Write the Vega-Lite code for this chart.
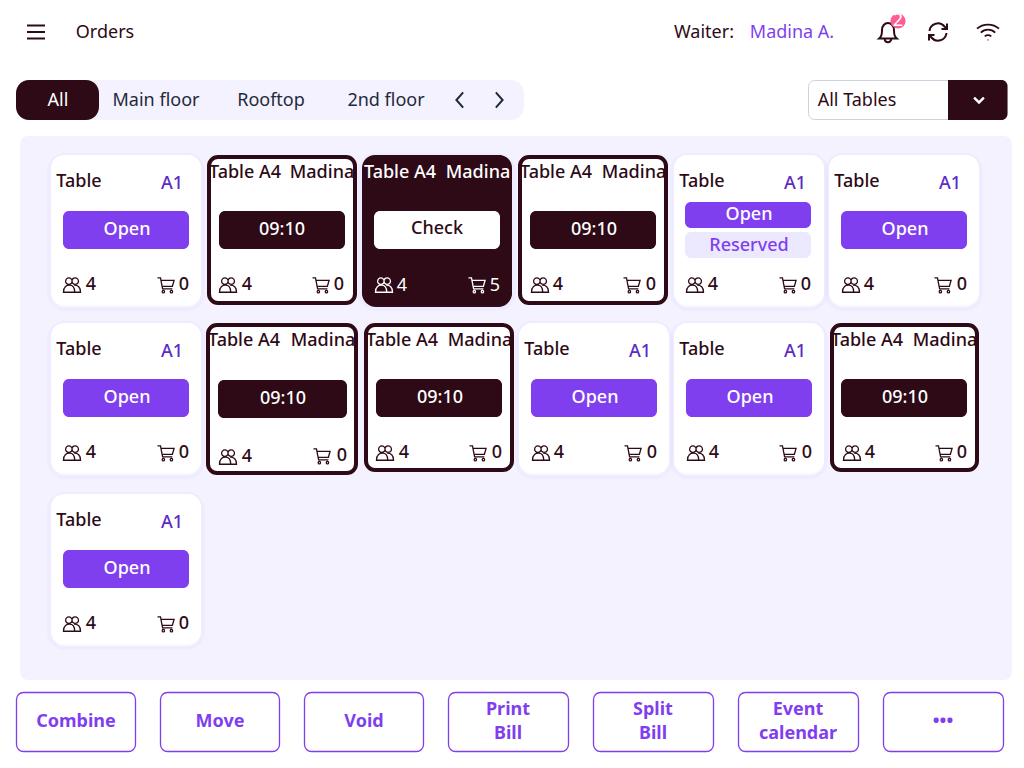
{
  "$schema": "https://vega.github.io/schema/vega-lite/v6.json",
  "width": 1024,
  "height": 768,
  "padding": 0,
  "autosize": {"type": "fit", "contains": "padding"},
  "background": "#ffffff",
  "view": {"stroke": null},
  "datasets": {
    "boxes": [
      {"role": "panel", "x": 20, "x2": 1012, "y": 136, "y2": 680},
      {"role": "track", "x": 16, "x2": 524, "y": 80, "y2": 120},
      {"role": "tabOn", "x": 16, "x2": 99, "y": 80, "y2": 120},
      {"role": "selectBox", "x": 808.5, "x2": 1007, "y": 80.5, "y2": 119.5},
      {"role": "selectDark", "x": 948, "x2": 1007.5, "y": 80, "y2": 120},
      {"role": "selectEdge", "x": 948, "x2": 960, "y": 80, "y2": 120},

      {"role": "card", "x": 51, "x2": 201, "y": 155, "y2": 305},
      {"role": "cardRing", "x": 209, "x2": 355, "y": 157, "y2": 303},
      {"role": "cardDark", "x": 362, "x2": 512, "y": 155, "y2": 305},
      {"role": "cardRing", "x": 520, "x2": 666, "y": 157, "y2": 303},
      {"role": "card", "x": 674, "x2": 824, "y": 155, "y2": 305},
      {"role": "card", "x": 829, "x2": 979, "y": 155, "y2": 305},
      {"role": "card", "x": 51, "x2": 201, "y": 323, "y2": 473},
      {"role": "cardRing", "x": 208, "x2": 356, "y": 325, "y2": 473},
      {"role": "cardRing", "x": 366, "x2": 512, "y": 325, "y2": 470},
      {"role": "card", "x": 519, "x2": 669, "y": 323, "y2": 473},
      {"role": "card", "x": 674, "x2": 824, "y": 323, "y2": 473},
      {"role": "cardRing", "x": 832, "x2": 977, "y": 325, "y2": 470},
      {"role": "card", "x": 51, "x2": 201, "y": 494, "y2": 644},

      {"role": "open", "x": 63, "x2": 189, "y": 211, "y2": 249},
      {"role": "timer", "x": 219, "x2": 345, "y": 211, "y2": 249},
      {"role": "check", "x": 374, "x2": 500, "y": 211, "y2": 249},
      {"role": "timer", "x": 530, "x2": 656, "y": 211, "y2": 249},
      {"role": "open", "x": 685, "x2": 811, "y": 202, "y2": 228},
      {"role": "reserved", "x": 685, "x2": 811, "y": 232, "y2": 258},
      {"role": "open", "x": 841, "x2": 967, "y": 211, "y2": 249},
      {"role": "open", "x": 63, "x2": 189, "y": 379, "y2": 417},
      {"role": "timer", "x": 218, "x2": 347, "y": 380, "y2": 418},
      {"role": "timer", "x": 376, "x2": 502, "y": 379, "y2": 417},
      {"role": "open", "x": 531, "x2": 657, "y": 379, "y2": 417},
      {"role": "open", "x": 686, "x2": 812, "y": 379, "y2": 417},
      {"role": "timer", "x": 841, "x2": 967, "y": 379, "y2": 417},
      {"role": "open", "x": 63, "x2": 189, "y": 550, "y2": 588},

      {"role": "action", "x": 16.5, "x2": 135.5, "y": 692.5, "y2": 751.5},
      {"role": "action", "x": 160.5, "x2": 279.5, "y": 692.5, "y2": 751.5},
      {"role": "action", "x": 304.5, "x2": 423.5, "y": 692.5, "y2": 751.5},
      {"role": "action", "x": 448.5, "x2": 568.5, "y": 692.5, "y2": 751.5},
      {"role": "action", "x": 593.5, "x2": 713.5, "y": 692.5, "y2": 751.5},
      {"role": "action", "x": 738.5, "x2": 858.5, "y": 692.5, "y2": 751.5},
      {"role": "action", "x": 883.5, "x2": 1003.5, "y": 692.5, "y2": 751.5}
    ],
    "gridlines": [
      {"x": 43, "x2": 43, "y": 145, "y2": 670},
      {"x": 148, "x2": 148, "y": 145, "y2": 670},
      {"x": 253, "x2": 253, "y": 145, "y2": 670},
      {"x": 358, "x2": 358, "y": 145, "y2": 670},
      {"x": 463, "x2": 463, "y": 145, "y2": 670},
      {"x": 568, "x2": 568, "y": 145, "y2": 670},
      {"x": 673, "x2": 673, "y": 145, "y2": 670},
      {"x": 778, "x2": 778, "y": 145, "y2": 670},
      {"x": 883, "x2": 883, "y": 145, "y2": 670},
      {"x": 988, "x2": 988, "y": 145, "y2": 670},
      {"x": 43, "x2": 988, "y": 145.5, "y2": 145.5},
      {"x": 43, "x2": 988, "y": 250.5, "y2": 250.5},
      {"x": 43, "x2": 988, "y": 355.5, "y2": 355.5},
      {"x": 43, "x2": 988, "y": 460.5, "y2": 460.5},
      {"x": 43, "x2": 988, "y": 565.5, "y2": 565.5},
      {"x": 43, "x2": 988, "y": 670.5, "y2": 670.5}
    ],
    "icons": [
      {"icon": "menu", "on": "plain", "x": 36, "y": 32},
      {"icon": "bell", "on": "plain", "x": 888, "y": 33},
      {"icon": "refresh", "on": "plain", "x": 938, "y": 32},
      {"icon": "wifi", "on": "plain", "x": 988, "y": 32},
      {"icon": "back", "on": "tabs", "x": 460, "y": 100},
      {"icon": "next", "on": "tabs", "x": 499, "y": 100},
      {"icon": "down", "on": "dark", "x": 979, "y": 100},
      {"icon": "guests", "on": "plain", "x": 72, "y": 285},
      {"icon": "cart", "on": "plain", "x": 166, "y": 285},
      {"icon": "guests", "on": "plain", "x": 228, "y": 285},
      {"icon": "cart", "on": "plain", "x": 321, "y": 285},
      {"icon": "guests", "on": "dark", "x": 384, "y": 285},
      {"icon": "cart", "on": "dark", "x": 477, "y": 285},
      {"icon": "guests", "on": "plain", "x": 540, "y": 285},
      {"icon": "cart", "on": "plain", "x": 632, "y": 285},
      {"icon": "guests", "on": "plain", "x": 695, "y": 285},
      {"icon": "cart", "on": "plain", "x": 788, "y": 285},
      {"icon": "guests", "on": "plain", "x": 851, "y": 285},
      {"icon": "cart", "on": "plain", "x": 943, "y": 285},
      {"icon": "guests", "on": "plain", "x": 72, "y": 453},
      {"icon": "cart", "on": "plain", "x": 166, "y": 453},
      {"icon": "guests", "on": "plain", "x": 228, "y": 457},
      {"icon": "cart", "on": "plain", "x": 322, "y": 456},
      {"icon": "guests", "on": "plain", "x": 385, "y": 453},
      {"icon": "cart", "on": "plain", "x": 478, "y": 453},
      {"icon": "guests", "on": "plain", "x": 541, "y": 453},
      {"icon": "cart", "on": "plain", "x": 633, "y": 453},
      {"icon": "guests", "on": "plain", "x": 696, "y": 453},
      {"icon": "cart", "on": "plain", "x": 788, "y": 453},
      {"icon": "guests", "on": "plain", "x": 852, "y": 453},
      {"icon": "cart", "on": "plain", "x": 944, "y": 453},
      {"icon": "guests", "on": "plain", "x": 72, "y": 624},
      {"icon": "cart", "on": "plain", "x": 166, "y": 624}
    ],
    "labels": [
      {"role": "title", "label": "Orders", "x": 105, "y": 33},
      {"role": "title", "label": "Waiter:", "x": 704, "y": 33},
      {"role": "waiter", "label": "Madina A.", "x": 792, "y": 33},
      {"role": "badge", "label": "2", "x": 898, "y": 21},
      {"role": "tabOn", "label": "All", "x": 58, "y": 101},
      {"role": "tab", "label": "Main floor", "x": 156, "y": 101},
      {"role": "tab", "label": "Rooftop", "x": 271, "y": 101},
      {"role": "tab", "label": "2nd floor", "x": 386, "y": 101},
      {"role": "title", "label": "All Tables", "x": 857, "y": 101},

      {"role": "table", "label": "Table", "x": 79, "y": 182},
      {"role": "code", "label": "A1", "x": 172, "y": 184},
      {"role": "openLarge", "label": "Open", "x": 127, "y": 230},
      {"role": "count", "label": "4", "x": 91, "y": 285},
      {"role": "count", "label": "0", "x": 184, "y": 285},

      {"role": "table", "label": "Table A4", "x": 245, "y": 173},
      {"role": "table", "label": "Madina", "x": 322, "y": 173},
      {"role": "timer", "label": "09:10", "x": 282, "y": 230},
      {"role": "count", "label": "4", "x": 247, "y": 285},
      {"role": "count", "label": "0", "x": 339, "y": 285},

      {"role": "tableDark", "label": "Table A4", "x": 400, "y": 173},
      {"role": "tableDark", "label": "Madina", "x": 478, "y": 173},
      {"role": "check", "label": "Check", "x": 437, "y": 229},
      {"role": "countDark", "label": "4", "x": 402, "y": 286},
      {"role": "countDark", "label": "5", "x": 495, "y": 286},

      {"role": "table", "label": "Table A4", "x": 556, "y": 173},
      {"role": "table", "label": "Madina", "x": 634, "y": 173},
      {"role": "timer", "label": "09:10", "x": 594, "y": 230},
      {"role": "count", "label": "4", "x": 558, "y": 285},
      {"role": "count", "label": "0", "x": 651, "y": 285},

      {"role": "table", "label": "Table", "x": 702, "y": 182},
      {"role": "code", "label": "A1", "x": 795, "y": 184},
      {"role": "openSmall", "label": "Open", "x": 749, "y": 215},
      {"role": "reserved", "label": "Reserved", "x": 749, "y": 246},
      {"role": "count", "label": "4", "x": 713, "y": 285},
      {"role": "count", "label": "0", "x": 806, "y": 285},

      {"role": "table", "label": "Table", "x": 857, "y": 182},
      {"role": "code", "label": "A1", "x": 950, "y": 184},
      {"role": "openLarge", "label": "Open", "x": 905, "y": 230},
      {"role": "count", "label": "4", "x": 869, "y": 285},
      {"role": "count", "label": "0", "x": 962, "y": 285},

      {"role": "table", "label": "Table", "x": 79, "y": 350},
      {"role": "code", "label": "A1", "x": 172, "y": 352},
      {"role": "openLarge", "label": "Open", "x": 127, "y": 398},
      {"role": "count", "label": "4", "x": 91, "y": 453},
      {"role": "count", "label": "0", "x": 184, "y": 453},

      {"role": "table", "label": "Table A4", "x": 244, "y": 341},
      {"role": "table", "label": "Madina", "x": 323, "y": 341},
      {"role": "timer", "label": "09:10", "x": 283, "y": 399},
      {"role": "count", "label": "4", "x": 247, "y": 457},
      {"role": "count", "label": "0", "x": 342, "y": 456},

      {"role": "table", "label": "Table A4", "x": 402, "y": 341},
      {"role": "table", "label": "Madina", "x": 480, "y": 341},
      {"role": "timer", "label": "09:10", "x": 440, "y": 398},
      {"role": "count", "label": "4", "x": 404, "y": 453},
      {"role": "count", "label": "0", "x": 497, "y": 453},

      {"role": "table", "label": "Table", "x": 547, "y": 350},
      {"role": "code", "label": "A1", "x": 640, "y": 352},
      {"role": "openLarge", "label": "Open", "x": 595, "y": 398},
      {"role": "count", "label": "4", "x": 559, "y": 453},
      {"role": "count", "label": "0", "x": 652, "y": 453},

      {"role": "table", "label": "Table", "x": 702, "y": 350},
      {"role": "code", "label": "A1", "x": 795, "y": 352},
      {"role": "openLarge", "label": "Open", "x": 750, "y": 398},
      {"role": "count", "label": "4", "x": 714, "y": 453},
      {"role": "count", "label": "0", "x": 807, "y": 453},

      {"role": "table", "label": "Table A4", "x": 867, "y": 341},
      {"role": "table", "label": "Madina", "x": 945, "y": 341},
      {"role": "timer", "label": "09:10", "x": 905, "y": 398},
      {"role": "count", "label": "4", "x": 870, "y": 453},
      {"role": "count", "label": "0", "x": 962, "y": 453},

      {"role": "table", "label": "Table", "x": 79, "y": 521},
      {"role": "code", "label": "A1", "x": 172, "y": 523},
      {"role": "openLarge", "label": "Open", "x": 127, "y": 569},
      {"role": "count", "label": "4", "x": 91, "y": 624},
      {"role": "count", "label": "0", "x": 184, "y": 624},

      {"role": "action", "label": "Combine", "x": 76, "y": 722},
      {"role": "action", "label": "Move", "x": 220, "y": 722},
      {"role": "action", "label": "Void", "x": 364, "y": 722},
      {"role": "action", "label": "Print", "x": 508, "y": 710},
      {"role": "action", "label": "Bill", "x": 508, "y": 734},
      {"role": "action", "label": "Split", "x": 653, "y": 710},
      {"role": "action", "label": "Bill", "x": 653, "y": 734},
      {"role": "action", "label": "Event", "x": 798, "y": 710},
      {"role": "action", "label": "calendar", "x": 798, "y": 734},
      {"role": "action", "label": "•••", "x": 943, "y": 722}
    ]
  },
  "encoding": {
    "x": {"field": "x", "type": "quantitative", "axis": null, "scale": {"domain": [0, 1024], "nice": false, "zero": false}},
    "y": {"field": "y", "type": "quantitative", "axis": null, "scale": {"domain": [0, 768], "nice": false, "zero": false, "reverse": true}}
  },
  "layer": [
    {
      "data": {"name": "boxes"},
      "encoding": {
        "x2": {"field": "x2"},
        "y2": {"field": "y2"},
        "fill": {
          "field": "role",
          "type": "nominal",
          "legend": null,
          "scale": {
            "domain": ["panel", "track", "tabOn", "selectBox", "selectDark", "selectEdge", "card", "cardRing", "cardDark", "open", "timer", "check", "reserved", "action"],
            "range": ["#f4f2ff", "#f4f2ff", "#2d0a16", "#ffffff", "#2d0a16", "#2d0a16", "#ffffff", "#ffffff", "#2d0a16", "#7f3fef", "#2d0a16", "#ffffff", "#ece8fd", "#ffffff"]
          }
        }
      },
      "layer": [
        {
          "transform": [{"filter": {"field": "role", "equal": "panel"}}],
          "mark": {"type": "rect", "cornerRadius": 8}
        },
        {
          "transform": [{"filter": {"field": "role", "oneOf": ["card", "cardDark"]}}],
          "mark": {"type": "rect", "cornerRadius": 14, "stroke": "#7b61ff", "strokeOpacity": 0.04, "strokeWidth": 8, "yOffset": 2, "y2Offset": 2}
        },
        {
          "transform": [{"filter": {"field": "role", "oneOf": ["card", "cardDark"]}}],
          "mark": {"type": "rect", "cornerRadius": 13}
        },
        {
          "transform": [{"filter": {"field": "role", "equal": "cardRing"}}],
          "mark": {"type": "rect", "cornerRadius": 9, "stroke": "#2d0a16", "strokeWidth": 4}
        },
        {
          "transform": [{"filter": {"field": "role", "oneOf": ["open", "timer", "check", "reserved"]}}],
          "mark": {"type": "rect", "cornerRadius": 6}
        },
        {
          "transform": [{"filter": {"field": "role", "oneOf": ["track", "tabOn"]}}],
          "mark": {"type": "rect", "cornerRadius": 13}
        },
        {
          "transform": [{"filter": {"field": "role", "equal": "selectBox"}}],
          "mark": {"type": "rect", "cornerRadius": 6, "stroke": "#cbd2e0", "strokeWidth": 1}
        },
        {
          "transform": [{"filter": {"field": "role", "equal": "selectDark"}}],
          "mark": {"type": "rect", "cornerRadius": 6}
        },
        {
          "transform": [{"filter": {"field": "role", "equal": "selectEdge"}}],
          "mark": {"type": "rect"}
        },
        {
          "transform": [{"filter": {"field": "role", "equal": "action"}}],
          "mark": {"type": "rect", "cornerRadius": 7, "stroke": "#7f3fef", "strokeWidth": 1.3}
        }
      ]
    },
    {
      "data": {"name": "icons"},
      "encoding": {
        "stroke": {
          "field": "on",
          "type": "nominal",
          "legend": null,
          "scale": {"domain": ["plain", "tabs", "dark"], "range": ["#2d0a16", "#1f2a3c", "#ffffff"]}
        }
      },
      "layer": [
        {
          "transform": [{"filter": {"field": "icon", "equal": "menu"}}],
          "mark": {"type": "point", "filled": false, "opacity": 1, "strokeWidth": 2, "size": 324, "shape": "M-1,-0.72 H1 M-1,0 H1 M-1,0.72 H1"}
        },
        {
          "transform": [{"filter": {"field": "icon", "equal": "bell"}}],
          "mark": {"type": "point", "filled": false, "opacity": 1, "strokeWidth": 2, "size": 484, "shape": "M-0.8,0.5 C-0.5,0.25 -0.55,-0.1 -0.55,-0.25 C-0.55,-0.65 -0.3,-0.9 0,-0.9 C0.3,-0.9 0.55,-0.65 0.55,-0.25 C0.55,-0.1 0.5,0.25 0.8,0.5 Z M-0.3,0.5 C-0.3,0.95 0.3,0.95 0.3,0.5"}
        },
        {
          "transform": [{"filter": {"field": "icon", "equal": "refresh"}}],
          "mark": {"type": "point", "filled": false, "opacity": 1, "strokeWidth": 2, "size": 400, "shape": "M-0.85,-0.1 A0.85,0.85 0 0 1 0.65,-0.55 L0.9,-0.3 M0.9,-0.85 V-0.3 H0.35 M0.85,0.1 A0.85,0.85 0 0 1 -0.65,0.55 L-0.9,0.3 M-0.9,0.85 V0.3 H-0.35"}
        },
        {
          "transform": [{"filter": {"field": "icon", "equal": "wifi"}}],
          "mark": {"type": "point", "filled": false, "opacity": 1, "strokeWidth": 1.8, "size": 484, "shape": "M-1,-0.3 C-0.45,-0.8 0.45,-0.8 1,-0.3 M-0.65,0.05 C-0.3,-0.3 0.3,-0.3 0.65,0.05 M-0.3,0.4 C-0.1,0.25 0.1,0.25 0.3,0.4 M-0.03,0.72 H0.03"}
        },
        {
          "transform": [{"filter": {"field": "icon", "equal": "back"}}],
          "mark": {"type": "point", "filled": false, "opacity": 1, "strokeWidth": 2, "size": 324, "shape": "M0.35,-0.85 L-0.4,0 L0.35,0.85"}
        },
        {
          "transform": [{"filter": {"field": "icon", "equal": "next"}}],
          "mark": {"type": "point", "filled": false, "opacity": 1, "strokeWidth": 2, "size": 324, "shape": "M-0.35,-0.85 L0.4,0 L-0.35,0.85"}
        },
        {
          "transform": [{"filter": {"field": "icon", "equal": "down"}}],
          "mark": {"type": "point", "filled": false, "opacity": 1, "strokeWidth": 2.4, "size": 196, "shape": "M-0.7,-0.35 L0,0.35 L0.7,-0.35"}
        },
        {
          "transform": [{"filter": {"field": "icon", "equal": "guests"}}],
          "mark": {"type": "point", "filled": false, "opacity": 1, "strokeWidth": 1.3, "size": 289, "shape": "M-0.75,-0.45 a0.38,0.38 0 1,0 0.76,0 a0.38,0.38 0 1,0 -0.76,0 Z M0,-0.45 a0.38,0.38 0 1,0 0.76,0 a0.38,0.38 0 1,0 -0.76,0 Z M-1,0.85 C-1,0.15 -0.6,0.02 -0.3,0.02 C0.1,0.02 0.32,0.25 0.32,0.85 Z M0.32,0.85 H1 C1,0.25 0.7,0.02 0.25,0.02"}
        },
        {
          "transform": [{"filter": {"field": "icon", "equal": "cart"}}],
          "mark": {"type": "point", "filled": false, "opacity": 1, "strokeWidth": 1.3, "size": 289, "shape": "M-1,-0.85 H-0.65 L-0.4,0.45 H0.75 M-0.58,-0.55 H0.95 L0.75,0.15 H-0.45 M-0.45,0.78 a0.14,0.14 0 1,0 0.28,0 a0.14,0.14 0 1,0 -0.28,0 Z M0.5,0.78 a0.14,0.14 0 1,0 0.28,0 a0.14,0.14 0 1,0 -0.28,0 Z"}
        }
      ]
    },
    {
      "data": {"values": [{"x": 898, "y": 21}]},
      "mark": {"type": "circle", "size": 230, "opacity": 1, "color": "#ff5c93"}
    },
    {
      "data": {"name": "labels"},
      "encoding": {
        "text": {"field": "label"},
        "color": {
          "field": "role",
          "type": "nominal",
          "legend": null,
          "scale": {
            "domain": ["title", "waiter", "badge", "tabOn", "tab", "table", "tableDark", "code", "openLarge", "openSmall", "reserved", "timer", "check", "count", "countDark", "action"],
            "range": ["#2d0a16", "#7f3fef", "#ffffff", "#ffffff", "#1f2a3c", "#2d0a16", "#ffffff", "#5b2bc4", "#ffffff", "#ffffff", "#7f3fef", "#ffffff", "#2d0a16", "#2d0a16", "#ffffff", "#7f3fef"]
          }
        },
        "size": {
          "field": "role",
          "type": "ordinal",
          "legend": null,
          "scale": {
            "domain": ["title", "waiter", "badge", "tabOn", "tab", "table", "tableDark", "code", "openLarge", "openSmall", "reserved", "timer", "check", "count", "countDark", "action"],
            "range": [18, 18, 11, 18, 18, 13, 13, 28, 18, 13, 15, 18, 18, 17, 15, 18]
          }
        }
      },
      "layer": [
        {
          "transform": [{"filter": {"field": "role", "oneOf": ["title", "waiter", "badge", "tabOn", "tab", "countDark"]}}],
          "mark": {"type": "text", "font": "Noto Sans", "fontWeight": 400, "align": "center", "baseline": "middle"}
        },
        {
          "transform": [{"filter": {"field": "role", "oneOf": ["table", "tableDark", "code", "openLarge", "openSmall", "reserved", "timer", "check", "count"]}}],
          "mark": {"type": "text", "font": "Noto Sans", "fontWeight": 500, "align": "center", "baseline": "middle"}
        },
        {
          "transform": [{"filter": {"field": "role", "equal": "action"}}],
          "mark": {"type": "text", "font": "Noto Sans", "fontWeight": 700, "align": "center", "baseline": "middle"}
        }
      ]
    }
  ]
}
